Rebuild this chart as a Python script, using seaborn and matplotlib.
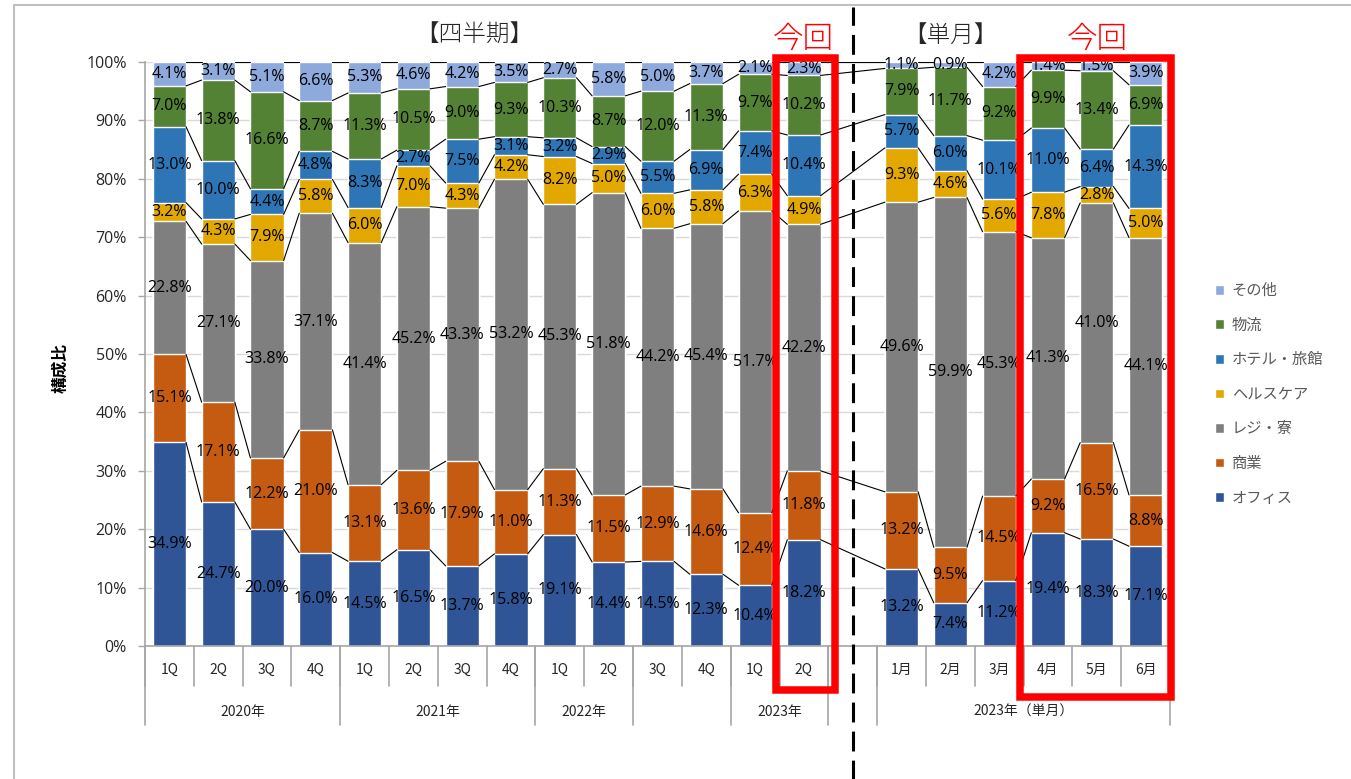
import numpy as np
import pandas as pd
import matplotlib
matplotlib.use('Agg')
import matplotlib.pyplot as plt
import seaborn as sns
from matplotlib.patches import Patch, Rectangle
from matplotlib.lines import Line2D

# categories (14 quarters + 6 months, one empty slot between)
periods = ['1Q', '2Q', '3Q', '4Q', '1Q', '2Q', '3Q', '4Q', '1Q', '2Q', '3Q', '4Q', '1Q', '2Q',
           '1月', '2月', '3月', '4月', '5月', '6月']
slots = list(range(14)) + list(range(15, 21))
groups = ['2020年', '2021年', '2022年', '', '2023年', '2023年（単月）']
group_edges = [-0.5, 3.5, 7.5, 9.5, 11.5, 13.5, 14.5, 20.5]
group_centers = [1.5, 5.5, 8.5, 10.5, 12.5, 17.5]

names = ['オフィス', '商業', 'レジ・寮', 'ヘルスケア', 'ホテル・旅館', '物流', 'その他']
colors = ['#2F5597', '#C55A11', '#7F7F7F', '#E2A800', '#2E75B6', '#548235', '#8EA9DB']

office     = [34.9, 24.7, 20.0, 16.0, 14.5, 16.5, 13.7, 15.8, 19.1, 14.4, 14.5, 12.3, 10.4, 18.2,
              13.2, 7.4, 11.2, 19.4, 18.3, 17.1]
commercial = [15.1, 17.1, 12.2, 21.0, 13.1, 13.6, 17.9, 11.0, 11.3, 11.5, 12.9, 14.6, 12.4, 11.8,
              13.2, 9.5, 14.5, 9.2, 16.5, 8.8]
resi       = [22.8, 27.1, 33.8, 37.1, 41.4, 45.2, 43.3, 53.2, 45.3, 51.8, 44.2, 45.4, 51.7, 42.2,
              49.6, 59.9, 45.3, 41.3, 41.0, 44.1]
health     = [3.2, 4.3, 7.9, 5.8, 6.0, 7.0, 4.3, 4.2, 8.2, 5.0, 6.0, 5.8, 6.3, 4.9,
              9.3, 4.6, 5.6, 7.8, 2.8, 5.0]
hotel      = [13.0, 10.0, 4.4, 4.8, 8.3, 2.7, 7.5, 3.1, 3.2, 2.9, 5.5, 6.9, 7.4, 10.4,
              5.7, 6.0, 10.1, 11.0, 6.4, 14.3]
logistics  = [7.0, 13.8, 16.6, 8.7, 11.3, 10.5, 9.0, 9.3, 10.3, 8.7, 12.0, 11.3, 9.7, 10.2,
              7.9, 11.7, 9.2, 9.9, 13.4, 6.9]
other      = [4.1, 3.1, 5.1, 6.6, 5.3, 4.6, 4.2, 3.5, 2.7, 5.8, 5.0, 3.7, 2.1, 2.3,
              1.1, 0.9, 4.2, 1.4, 1.5, 3.9]

series = [office, commercial, resi, health, hotel, logistics, other]

df = pd.DataFrame({'slot': slots})
raw = np.array(series)
share = raw / raw.sum(axis=0) * 100  # 100% stacked
cum = np.cumsum(share, axis=0)
for k in range(7):
    df[f'cum{k}'] = cum[k]

sns.set_theme(style='white')
plt.rcParams['font.family'] = ['Noto Sans CJK JP', 'DejaVu Sans']
num_font = ['Open Sans', 'Noto Sans CJK JP']

W, H = 1351, 779
fig = plt.figure(figsize=(W / 100, H / 100), dpi=100)
ax = fig.add_axes([145 / W, 1 - 646 / H, 1025 / W, 584 / H])

bw = 0.68
# layered bars: biggest cumulative first
for k in reversed(range(7)):
    sns.barplot(data=df, x='slot', y=f'cum{k}', color=colors[k], width=bw, native_scale=True,
                saturation=1, errorbar=None, orient='x', ax=ax, zorder=2)

# series lines between bars
for k in range(7):
    for i in range(len(slots) - 1):
        ax.plot([slots[i] + bw / 2, slots[i + 1] - bw / 2], [cum[k][i], cum[k][i + 1]],
                color='black', lw=0.8, zorder=3)

# data labels
for k in range(7):
    for i in range(len(slots)):
        y = cum[k][i] - share[k][i] / 2
        ax.text(slots[i], y, f'{raw[k][i]:.1f}%', ha='center', va='center', fontsize=11.5,
                family=num_font, color='black', zorder=4)

ax.set_xlim(-0.5, 20.5)
ax.set_ylim(0, 100)
ax.set_yticks(range(0, 101, 10))
ax.set_yticklabels([f'{v}%' for v in range(0, 101, 10)], fontsize=11.5, color='#262626',
                   family=num_font)
ax.set_xticks([])
ax.set_xlabel('')
ax.grid(axis='y', color='#D9D9D9', lw=1)
ax.set_axisbelow(True)
ax.tick_params(axis='y', left=True, length=5, width=1, color='#A6A6A6', pad=8)
for s in ['top', 'right']:
    ax.spines[s].set_visible(False)
for s in ['left', 'bottom']:
    ax.spines[s].set_color('#A6A6A6')
    ax.spines[s].set_linewidth(1.2)
ax.set_ylabel('構成比', fontsize=12, fontweight='bold', color='black')
ax.yaxis.set_label_coords(-0.074, 0.476)

# two level category axis
tr = ax.get_xaxis_transform()
for i, s in enumerate(slots):
    ax.text(s, -0.041, periods[i], transform=tr, ha='center', va='center', fontsize=10,
            color='#262626')
for e in [x - 0.5 for x in range(15)] + [x + 0.5 for x in range(14, 21)]:
    ax.plot([e, e], [0, -0.068], transform=tr, color='#A6A6A6', lw=1.2, clip_on=False)
for e in group_edges:
    ax.plot([e, e], [0, -0.135], transform=tr, color='#A6A6A6', lw=1.2, clip_on=False)
for g, c in zip(groups, group_centers):
    ax.text(c, -0.113, g, transform=tr, ha='center', va='center', fontsize=10, color='#262626')

# red "今回" boxes
ax.add_patch(Rectangle((12.43, -7.5), 13.64 - 12.43, 100.7 + 7.5, fill=False, ec='#FF0000',
                       lw=5.4, clip_on=False, joinstyle='miter', zorder=5))
ax.add_patch(Rectangle((17.43, -8.7), 20.53 - 17.43, 100.7 + 8.7, fill=False, ec='#FF0000',
                       lw=5.4, clip_on=False, joinstyle='miter', zorder=5))

# dashed divider
ax.axvline(14.0, ymin=-0.23, ymax=1.095, color='black', lw=2.2, dashes=(6.5, 3),
           clip_on=False, zorder=5)

# headings
fig.text(474 / W, 1 - 35 / H, '【四半期】', ha='center', va='center', fontsize=17,
         fontweight='light')
fig.text(950 / W, 1 - 35 / H, '【単月】', ha='center', va='center', fontsize=17,
         fontweight='light')
fig.text(803 / W, 1 - 39 / H, '今回', ha='center', va='center', fontsize=22, color='#FF0000',
         fontweight='light')
fig.text(1097 / W, 1 - 39 / H, '今回', ha='center', va='center', fontsize=22, color='#FF0000',
         fontweight='light')

# legend
handles = [Patch(facecolor=colors[k], label=names[k]) for k in reversed(range(7))]
fig.legend(handles=handles, loc='upper left', bbox_to_anchor=(1209 / W, 1 - 276 / H),
           frameon=False, fontsize=11, labelcolor='#595959', handlelength=0.6,
           handleheight=0.6, handletextpad=0.5, labelspacing=1.15, borderaxespad=0)

# chart area frame
fig.add_artist(Line2D([14 / W, 14 / W], [0, 1 - 5 / H], color='#BFBFBF', lw=1.5))
fig.add_artist(Line2D([14 / W, 1], [1 - 5 / H, 1 - 5 / H], color='#BFBFBF', lw=1.5))

fig.savefig('out.png', dpi=100)
